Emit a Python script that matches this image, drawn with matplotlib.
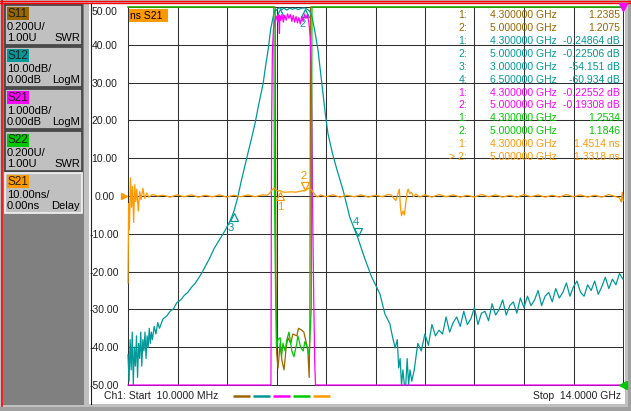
import numpy as np
import matplotlib
matplotlib.use("Agg")
import matplotlib.pyplot as plt
from matplotlib.patches import Rectangle
from matplotlib.transforms import offset_copy

plt.rcParams['font.family'] = ['Liberation Sans', 'DejaVu Sans']
plt.rcParams['font.size'] = 7.5

# sweep
F_START, F_STOP = 0.01, 14.0   # GHz

# trace colours
BROWN, TEAL, MAGENTA, GREEN, ORANGE = '#996600', '#009999', '#ff00ff', '#00c800', '#ff9900'

# S12 log mag (dB), 10 dB/div, ref 0 dB at top
s12_ghz = [0.01, 0.04, 0.07, 0.10, 0.13, 0.16, 0.19, 0.22, 0.25, 0.28, 0.31, 0.34, 0.37, 0.40,
           0.43, 0.46, 0.49, 0.52, 0.55, 0.58, 0.61, 0.64, 0.67, 0.70, 0.75, 0.80, 0.85, 0.90,
           1.00, 1.10, 1.20, 1.30, 1.39, 1.50, 1.60, 1.70, 1.80, 1.90, 2.00, 2.10, 2.20, 2.30,
           2.45, 2.60, 2.75, 2.90, 3.00, 3.10, 3.20, 3.30, 3.37, 3.50, 3.60, 3.70, 3.83, 3.90,
           3.97, 4.04, 4.11, 4.16, 4.20, 4.24, 4.30, 4.36, 4.42, 4.50, 4.58, 4.66, 4.74, 4.82,
           4.90, 5.00, 5.06, 5.12, 5.17, 5.22, 5.30, 5.38, 5.45, 5.52, 5.59, 5.66, 5.79, 5.92,
           6.09, 6.28, 6.50, 6.70, 6.90, 7.13, 7.27, 7.41, 7.48, 7.56, 7.62, 7.66, 7.70, 7.74,
           7.78, 7.82, 7.86, 7.90, 7.94, 7.98, 8.03,
           8.1, 8.2, 8.3, 8.4, 8.5, 8.6, 8.7, 8.8, 8.9, 9.0,
           9.1, 9.2, 9.3, 9.4, 9.5, 9.6, 9.7, 9.8, 9.9, 10.0,
           10.1, 10.2, 10.3, 10.4, 10.5, 10.6, 10.7, 10.8, 10.9, 11.0,
           11.1, 11.2, 11.3, 11.4, 11.5, 11.6, 11.7, 11.8, 11.9, 12.0,
           12.1, 12.2, 12.3, 12.4, 12.5, 12.6, 12.7, 12.8, 12.9, 13.0,
           13.1, 13.2, 13.3, 13.4, 13.5, 13.6, 13.7, 13.8, 13.9, 14.0]
s12_db = [-92, -99, -88, -96, -86, -100, -90, -95, -87, -98, -89, -93, -86, -95,
          -88, -91, -86, -93, -87, -90, -85, -89, -86, -88, -84.5, -86.5, -83.5, -85,
          -82.5, -81.8, -80.5, -79.8, -78.2, -77.5, -76.3, -75.5, -74.2, -73.2, -71.8, -70.3, -68.5, -66.8,
          -63.8, -61.5, -59.2, -56.5, -54.15, -50.8, -46.5, -42.5, -39.8, -34.8, -30.8, -26.0, -20.2, -15.5,
          -11.4, -6.0, -2.7, -0.8, -0.9, -0.4, -0.25, -0.7, -0.3, -0.8, -0.3, -0.6, -0.3, -0.7,
          -0.35, -0.23, -0.5, -0.9, -1.5, -3.0, -6.9, -11.4, -17.0, -22.8, -28.5, -33.4, -38.8, -43.2,
          -48.5, -55.7, -60.93, -66.5, -71.5, -75.9, -81.2, -83.8, -87, -90.2, -88, -95.5, -93, -100,
          -96, -104, -100, -93, -104, -96, -99,
          -96, -89, -91, -86.5, -89.5, -84, -87, -85.5, -86.5, -82,
          -86, -83.5, -82, -84.5, -80.5, -84, -82.5, -79.5, -84, -81,
          -80.5, -83, -78.5, -81.5, -80, -77.5, -81.5, -79, -78, -81,
          -77, -79.5, -76.5, -79, -77.5, -75, -79, -76.5, -75.5, -78,
          -74.5, -77, -75.5, -73, -76.5, -74, -72.5, -75.5, -76.5, -73.5,
          -75, -72.5, -76, -74, -71.5, -74.5, -72, -73.5, -70.5, -72]

# S21 log mag (dB), 1 dB/div, ref 0 dB at top
s21_ghz = [0.01, 4.03, 4.05, 4.06, 4.07, 4.09, 4.12, 4.16, 4.20, 4.24, 4.27, 4.29, 4.30, 4.33,
           4.36, 4.40, 4.44, 4.48, 4.52, 4.56, 4.60, 4.64, 4.68, 4.72, 4.76, 4.80, 4.84, 4.88,
           4.92, 4.96, 5.00, 5.04, 5.08, 5.12, 5.16, 5.19, 5.21, 5.23, 5.26, 5.29, 5.31, 5.33, 14.0]
s21_db = [-60, -60, -12, -6, -3, -1.2, -0.6, -0.35, -0.25, -0.4, -0.2, -0.7, -0.23, -0.35,
          -0.2, -0.4, -0.22, -0.35, -0.18, -0.3, -0.2, -0.38, -0.22, -0.4, -0.25, -0.42, -0.28, -0.45,
          -0.25, -0.38, -0.19, -0.3, -0.2, -0.4, -0.8, -1.6, -3.0, -5.5, -7.8, -9.5, -12, -60, -60]

# S11 / S22 SWR, 0.2 U/div, ref 1.00 at bottom
s11_ghz = [0.01, 4.17, 4.19, 4.21, 4.25, 4.31, 4.36, 4.42, 4.48, 4.53, 4.61, 4.67,
           4.78, 4.83, 4.92, 4.98, 5.04, 5.09, 5.13, 5.15, 5.17, 14.0]
s11_swr = [9.9, 9.9, 1.6, 1.17, 1.09, 1.22, 1.13, 1.08, 1.20, 1.25, 1.22, 1.27,
           1.26, 1.30, 1.29, 1.28, 1.23, 1.19, 1.04, 1.3, 9.9, 9.9]
s22_ghz = [0.01, 4.13, 4.15, 4.18, 4.21, 4.25, 4.31, 4.35, 4.39, 4.45, 4.50, 4.56, 4.64,
           4.70, 4.78, 4.81, 4.89, 4.96, 5.01, 5.07, 5.13, 5.16, 5.19, 5.21, 14.0]
s22_swr = [9.9, 9.9, 2.0, 1.5, 1.20, 1.24, 1.25, 1.15, 1.22, 1.18, 1.24, 1.28, 1.18,
           1.15, 1.22, 1.26, 1.20, 1.18, 1.23, 1.20, 1.16, 1.29, 1.4, 9.9, 9.9]

# S21 group delay (ns), 10 ns/div, ref 0 ns at centre
delay_ghz = [0.01, 0.03, 0.05, 0.08, 0.11, 0.14, 0.17, 0.20, 0.23, 0.26, 0.30, 0.34, 0.38, 0.43, 0.48, 0.54, 0.60, 0.70, 0.85,
             1.0, 1.2, 1.4, 1.6, 1.8, 2.0, 2.2, 2.4, 2.6, 2.8, 3.0, 3.2, 3.4, 3.6, 3.8, 3.95,
             4.02, 4.08, 4.14, 4.20, 4.26, 4.30, 4.36, 4.45, 4.55, 4.65, 4.75, 4.85, 4.95, 5.00, 5.06, 5.12, 5.18, 5.24, 5.30, 5.36, 5.45,
             5.6, 5.8, 6.0, 6.2, 6.4, 6.6, 6.8, 7.0, 7.2, 7.35, 7.45, 7.52, 7.58, 7.64, 7.68, 7.71, 7.74, 7.78, 7.82, 7.86, 7.90, 7.93, 7.97, 8.02, 8.08, 8.15, 8.25,
             8.4, 8.6, 8.8, 9.0, 9.2, 9.4, 9.6, 9.8, 10.0, 10.2, 10.4, 10.6, 10.8, 11.0,
             11.2, 11.4, 11.6, 11.8, 12.0, 12.2, 12.4, 12.6, 12.8, 13.0, 13.2, 13.4, 13.6, 13.8,
             13.9, 13.95, 13.98, 14.0]
delay_ns = [-23, -2, -9, 4.8, -3, 2.5, -7, 3, -1.5, 1.8, -4, 1.2, -1, 2, -0.6, 0.8, -0.3, 0.4, 0,
            0.2, -0.3, 0.3, -0.2, 0.3, -0.3, 0.2, -0.2, 0.3, -0.3, 0.2, -0.2, 0.3, -0.2, 0.3, 0.2,
            0.8, 1.6, 2.1, 1.6, 1.3, 1.45, 1.1, 1.0, 1.05, 1.1, 1.0, 1.2, 1.4, 1.33, 1.7, 2.1, 1.8, 1.0, 0.3, -0.3, 0.3,
            -0.2, 0.3, -0.3, 0.2, -0.2, 0.3, -0.3, 0.2, -0.2, 0.4, 0.3, -0.6, -1.2, 0.6, 1.8, -3, -5.2, -4, -5, -2, 1.2, 1.8, 0.6, 1.0, -0.2, 0.5, -0.3,
            0.3, -0.3, 0.4, -0.2, 0.3, -0.3, 0.2, -0.3, 0.4, -0.2, 0.3, -0.3, 0.2, -0.3,
            0.4, -0.2, 0.3, -0.3, 0.2, -0.3, 0.4, -0.2, 0.3, -0.3, 0.2, -0.3, 0.4, -0.2,
            -0.5, -1.6, 1.0, -1.2]

# markers
s12_mk_ghz = [4.3, 5.0, 3.0, 6.5]
s12_mk_db = [-0.24864, -0.22506, -54.151, -60.934]
dly_mk_ghz = [4.3, 5.0]
dly_mk_ns = [1.4514, 1.3318]

# channel setup panel
chan_names = ['S11', 'S12', 'S21', 'S22', 'S21']
chan_colors = [BROWN, TEAL, MAGENTA, GREEN, ORANGE]
chan_scale = ['0.200U/', '10.00dB/', '1.000dB/', '0.200U/', '10.00ns/']
chan_ref = ['1.00U', '0.00dB', '0.00dB', '1.00U', '0.00ns']
chan_fmt = ['SWR', 'LogM', 'LogM', 'SWR', 'Delay']

# marker readout table
tbl_colors = [BROWN, BROWN, TEAL, TEAL, TEAL, TEAL, MAGENTA, MAGENTA, GREEN, GREEN, ORANGE, ORANGE]
tbl_num = ['1:', '2:', '1:', '2:', '3:', '4:', '1:', '2:', '1:', '2:', '1:', '> 2:']
tbl_freq = ['4.300000 GHz', '5.000000 GHz', '4.300000 GHz', '5.000000 GHz', '3.000000 GHz', '6.500000 GHz',
            '4.300000 GHz', '5.000000 GHz', '4.300000 GHz', '5.000000 GHz', '4.300000 GHz', '5.000000 GHz']
tbl_val = ['1.2385', '1.2075', '-0.24864 dB', '-0.22506 dB', '-54.151 dB', '-60.934 dB',
           '-0.22552 dB', '-0.19308 dB', '1.2534', '1.1846', '1.4514 ns', '1.3318 ns']

W, H = 631, 411
fig = plt.figure(figsize=(W / 100, H / 100), dpi=100, facecolor='#c0c0c0')
PLOT = [128 / W, 1 - 385 / H, 495 / W, 378 / H]

# ---- window chrome, in pixel coords ----
bg = fig.add_axes([0, 0, 1, 1], zorder=0, label='bg')
bg.set_xlim(0, W)
bg.set_ylim(H, 0)
bg.axis('off')


def rect(a, x0, y0, x1, y1, fc, ec='none', lw=0):
    a.add_patch(Rectangle((x0, y0), x1 - x0, y1 - y0, facecolor=fc, edgecolor=ec, linewidth=lw))


rect(bg, 3, 4, 84, 405, '#808080')
rect(bg, 89, 4, 625, 404, 'white')
rect(bg, 628, 0, W, H, '#a0a0a0')
rect(bg, 0, 407, W, H, '#a0a0a0')
bg.plot([90.5, 90.5], [4, 404], color='#202020', lw=0.8)
bg.plot([0, W], [1, 1], color='red', lw=1)
bg.plot([0, W], [3.5, 3.5], color='red', lw=1)
bg.plot([1.5, 1.5], [0, 406], color='red', lw=1.2)

for i in range(5):
    y0 = 5 + 42 * i
    active = i == 4
    rect(bg, 5, y0, 82, y0 + 40, '#c0c0c0', ec='#f4f4f4' if active else '#404040', lw=1.2)
    rect(bg, 6.5, y0 + 2.5, 29, y0 + 15.5, chan_colors[i])
    bg.text(7.5, y0 + 9.3, chan_names[i], fontsize=8.5, va='center', color='#202020')
    bg.text(7, y0 + 22, chan_scale[i], va='center', fontsize=8)
    bg.text(7, y0 + 33, chan_ref[i], va='center', fontsize=8)
    bg.text(80, y0 + 33, chan_fmt[i], va='center', ha='right', fontsize=8)

# ---- graticule (labels follow the active delay trace) ----
gax = fig.add_axes(PLOT, zorder=1, label='grid')
gax.patch.set_visible(False)
gax.set_xlim(F_START, F_STOP)
gax.set_ylim(-50, 50)
gax.set_xticks(np.linspace(F_START, F_STOP, 11))
yt = list(range(-50, 51, 10))
gax.set_yticks(yt)
gax.set_yticklabels(['%.2f' % v for v in yt])
gax.tick_params(length=0, labelbottom=False, pad=16.9, labelsize=7.5, labelcolor='#202020')
for lab in gax.get_yticklabels():
    lab.set_ha('center')
gax.get_yticklabels()[-1].set_va('top')
gax.grid(True, color='#303030', lw=0.75)
for gl in gax.get_xgridlines() + gax.get_ygridlines():
    gl.set_clip_on(False)
for s in gax.spines.values():
    s.set_visible(False)


def trace_ax(z, lo, hi, name):
    a = fig.add_axes(PLOT, zorder=z, label=name)
    a.set_xlim(F_START, F_STOP)
    a.set_ylim(lo, hi)
    a.axis('off')
    return a


def draw(a, f, v, c):
    lo, hi = a.get_ylim()
    a.plot(f, np.clip(v, lo, hi), color=c, lw=0.9, clip_on=False)


ax11 = trace_ax(2, 1.0, 3.0, 's11')
ax12 = trace_ax(3, -100, 0, 's12')
ax21 = trace_ax(4, -10, 0, 's21')
ax22 = trace_ax(5, 1.0, 3.0, 's22')
axd = trace_ax(6, -50, 50, 'delay')

draw(ax11, s11_ghz, s11_swr, BROWN)
draw(ax12, s12_ghz, s12_db, TEAL)
draw(ax21, s21_ghz, s21_db, MAGENTA)
draw(ax22, s22_ghz, s22_swr, GREEN)
draw(axd, delay_ghz, delay_ns, ORANGE)


def marker(a, f, v, c, up, lab, lab_dx=0):
    # open triangle whose tip sits on the trace, label beyond it
    dy = -5 if up else 5
    tr = offset_copy(a.transData, fig=fig, x=0, y=dy, units='dots')
    a.plot([f], [v], marker='^' if up else 'v', ms=5.5, mfc='none', mec=c, mew=0.9,
           transform=tr, clip_on=False)
    if lab:
        a.annotate(lab, (f, v), xytext=(lab_dx, -16 if up else 15), textcoords='offset pixels',
                   ha='center', va='center', color=c, fontsize=8)


marker(ax12, s12_mk_ghz[0], s12_mk_db[0], TEAL, True, '')
marker(ax12, s12_mk_ghz[1], s12_mk_db[1], TEAL, True, '2', -2)
marker(ax12, s12_mk_ghz[2], s12_mk_db[2], TEAL, True, '3', -3)
marker(ax12, s12_mk_ghz[3], s12_mk_db[3], TEAL, False, '4', -2)
marker(axd, dly_mk_ghz[0], dly_mk_ns[0], ORANGE, True, '1')
marker(axd, dly_mk_ghz[1], dly_mk_ns[1], ORANGE, False, '2', -1)

# reference position indicators
axd.plot([F_START], [0], marker='>', ms=5, color=ORANGE, clip_on=False,
         transform=offset_copy(axd.transData, fig=fig, x=-4, y=0, units='dots'))
axd.plot([1], [1], marker='v', ms=6, color=MAGENTA, clip_on=False, transform=axd.transAxes)
axd.plot([1], [0], marker='<', ms=6, color=GREEN, clip_on=False, transform=axd.transAxes)

# ---- overlay text ----
fg = fig.add_axes([0, 0, 1, 1], zorder=10, label='fg')
fg.set_xlim(0, W)
fg.set_ylim(H, 0)
fg.axis('off')
fg.patch.set_visible(False)

rect(fg, 129, 9, 168, 22, ORANGE)
fg.text(130, 15.8, 'ns S21', va='center', fontsize=7.5, color='black')

for i in range(len(tbl_num)):
    y = 15.5 + 12.85 * i
    fg.text(467, y, tbl_num[i], ha='right', va='center', color=tbl_colors[i])
    fg.text(490, y, tbl_freq[i], ha='left', va='center', color=tbl_colors[i])
    fg.text(620, y, tbl_val[i], ha='right', va='center', color=tbl_colors[i])

fg.text(104, 396, 'Ch1: Start  10.0000 MHz', va='center', color='#202020')
fg.text(621, 396, 'Stop  14.0000 GHz', ha='right', va='center', color='#202020')
for k, c in enumerate(chan_colors):
    x0 = 232.5 + 20 * k
    fg.plot([x0, x0 + 17], [396, 396], color=c, lw=1.8, solid_capstyle='butt')

fig.savefig('out.png', dpi=100, facecolor=fig.get_facecolor())
